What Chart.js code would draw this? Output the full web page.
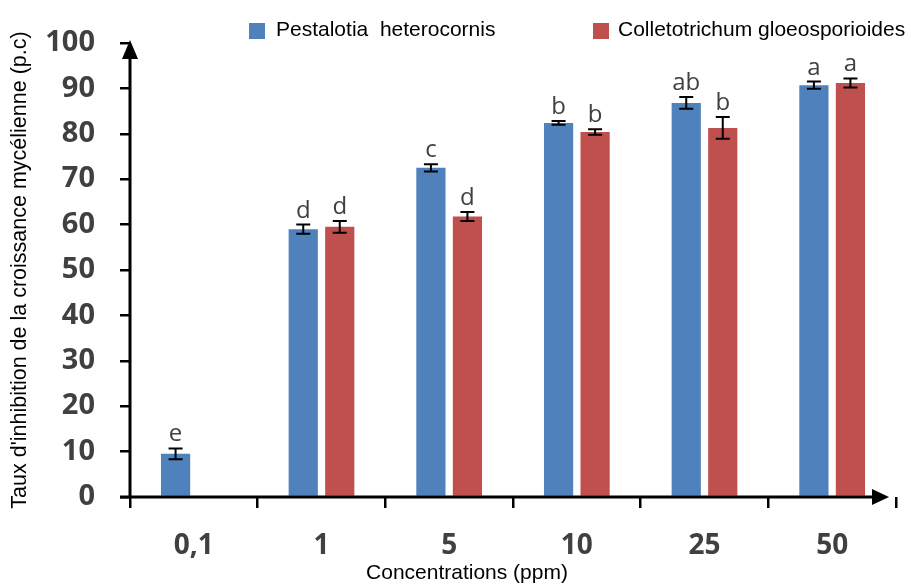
<!DOCTYPE html>
<html>
<head>
<meta charset="utf-8">
<script src="https://cdn.jsdelivr.net/npm/chart.js@4/dist/chart.umd.min.js"></script>
<style>
  html, body { margin: 0; padding: 0; background: #fff; }
  canvas { display: block; }
</style>
</head>
<body>
<canvas id="chart" width="911" height="587"></canvas>
<script>
// Data
const concentrations = ['0,1', '1', '5', '10', '25', '50'];
const pestalotia = [9.5, 59.0, 72.5, 82.4, 86.8, 90.7];
const colletotrichum = [null, 59.5, 61.8, 80.4, 81.3, 91.2];
const pestalotiaErr = [1.2, 1.0, 0.8, 0.4, 1.3, 0.8];
const colletotrichumErr = [null, 1.3, 1.0, 0.6, 2.4, 1.0];
const pestalotiaLetters = ['e', 'd', 'c', 'b', 'ab', 'a'];
const colletotrichumLetters = ['', 'd', 'd', 'b', 'b', 'a'];
const yTicks = [0, 10, 20, 30, 40, 50, 60, 70, 80, 90, 100];

const BLUE = '#4f81bd';
const RED = '#c0504d';
const TEXT_DARK = '#404040';

const errors = [pestalotiaErr, colletotrichumErr];
const letters = [pestalotiaLetters, colletotrichumLetters];

// Error bars + significance letters
const errorBarPlugin = {
    id: 'errorBars',
    afterDatasetsDraw(chart) {
        const ctx = chart.ctx;
        const yScale = chart.scales.y;
        ctx.save();
        chart.data.datasets.forEach((ds, di) => {
            const meta = chart.getDatasetMeta(di);
            meta.data.forEach((bar, i) => {
                const v = ds.data[i];
                const e = errors[di][i];
                if (v == null || e == null) return;
                const top = yScale.getPixelForValue(v + e);
                const bot = yScale.getPixelForValue(v - e);
                ctx.strokeStyle = '#000';
                ctx.lineWidth = 2;
                ctx.beginPath();
                ctx.moveTo(bar.x, top);
                ctx.lineTo(bar.x, bot);
                ctx.moveTo(bar.x - 7, top);
                ctx.lineTo(bar.x + 7, top);
                ctx.moveTo(bar.x - 7, bot);
                ctx.lineTo(bar.x + 7, bot);
                ctx.stroke();

                ctx.fillStyle = TEXT_DARK;
                ctx.font = '24px "Open Sans"';
                ctx.textAlign = 'center';
                ctx.textBaseline = 'alphabetic';
                ctx.fillText(letters[di][i], bar.x, top - 7);
            });
        });
        ctx.restore();
    }
};

// Axis lines with arrows, legend and x title
const decorPlugin = {
    id: 'decor',
    afterDraw(chart) {
        const ctx = chart.ctx;
        const a = chart.chartArea;
        ctx.save();
        ctx.strokeStyle = '#000';
        ctx.fillStyle = '#000';
        ctx.lineWidth = 3;
        ctx.beginPath();
        ctx.moveTo(a.left, a.bottom);
        ctx.lineTo(a.left, a.top + 10);
        ctx.moveTo(a.left - 10, a.bottom);
        ctx.lineTo(a.right - 16, a.bottom);
        ctx.stroke();
        // y arrow
        ctx.beginPath();
        ctx.moveTo(a.left, a.top - 3);
        ctx.lineTo(a.left - 8, a.top + 16);
        ctx.lineTo(a.left + 8, a.top + 16);
        ctx.closePath();
        ctx.fill();
        // x arrow
        ctx.beginPath();
        ctx.moveTo(a.right - 7, a.bottom);
        ctx.lineTo(a.right - 24, a.bottom - 8);
        ctx.lineTo(a.right - 24, a.bottom + 8);
        ctx.closePath();
        ctx.fill();

        // legend
        ctx.font = '21px "Liberation Sans", Arial, sans-serif';
        ctx.textBaseline = 'middle';
        ctx.textAlign = 'left';
        ctx.fillStyle = BLUE;
        ctx.fillRect(249, 23, 16, 16);
        ctx.fillStyle = '#000';
        ctx.fillText('Pestalotia  heterocornis', 276, 30);
        ctx.fillStyle = RED;
        ctx.fillRect(593, 23, 16, 16);
        ctx.fillStyle = '#000';
        ctx.fillText('Colletotrichum gloeosporioides', 618, 30);

        // x title
        ctx.textAlign = 'center';
        ctx.fillText('Concentrations (ppm)', 467, 573);
        ctx.restore();
    }
};

new Chart(document.getElementById('chart'), {
    type: 'bar',
    data: {
        labels: concentrations,
        datasets: [
            {
                label: 'Pestalotia heterocornis',
                data: pestalotia,
                backgroundColor: BLUE,
                barPercentage: 0.8,
                categoryPercentage: 0.572
            },
            {
                label: 'Colletotrichum gloeosporioides',
                data: colletotrichum,
                backgroundColor: RED,
                barPercentage: 0.8,
                categoryPercentage: 0.572
            }
        ]
    },
    options: {
        responsive: false,
        animation: false,
        layout: { padding: { top: 43, right: 15, left: 0, bottom: 0 } },
        plugins: {
            legend: { display: false },
            tooltip: { enabled: false }
        },
        scales: {
            x: {
                offset: true,
                grid: {
                    display: true,
                    offset: true,
                    drawOnChartArea: false,
                    drawTicks: true,
                    tickLength: 11,
                    color: '#000',
                    lineWidth: 2.5
                },
                border: { display: false },
                ticks: {
                    padding: 21,
                    color: TEXT_DARK,
                    font: { family: 'Open Sans', size: 28, weight: 'bold' }
                },
                afterFit(scale) { scale.height = 90; }
            },
            y: {
                min: 0,
                max: 100,
                afterBuildTicks(scale) { scale.ticks = yTicks.map(v => ({ value: v })); },
                grid: {
                    display: true,
                    drawOnChartArea: false,
                    drawTicks: true,
                    tickLength: 10,
                    color: '#000',
                    lineWidth: 2.5
                },
                border: { display: false },
                ticks: {
                    padding: 25,
                    color: TEXT_DARK,
                    font: { family: 'Open Sans', size: 29, weight: 'bold' }
                },
                title: {
                    display: true,
                    text: "Taux d'inhibition de la croissance mycélienne (p.c)",
                    color: '#000',
                    padding: { top: 7, bottom: 0 },
                    font: { family: 'Liberation Sans', size: 21.5 }
                },
                afterFit(scale) { scale.width = 130; }
            }
        }
    },
    plugins: [errorBarPlugin, decorPlugin]
});
</script>
</body>
</html>
